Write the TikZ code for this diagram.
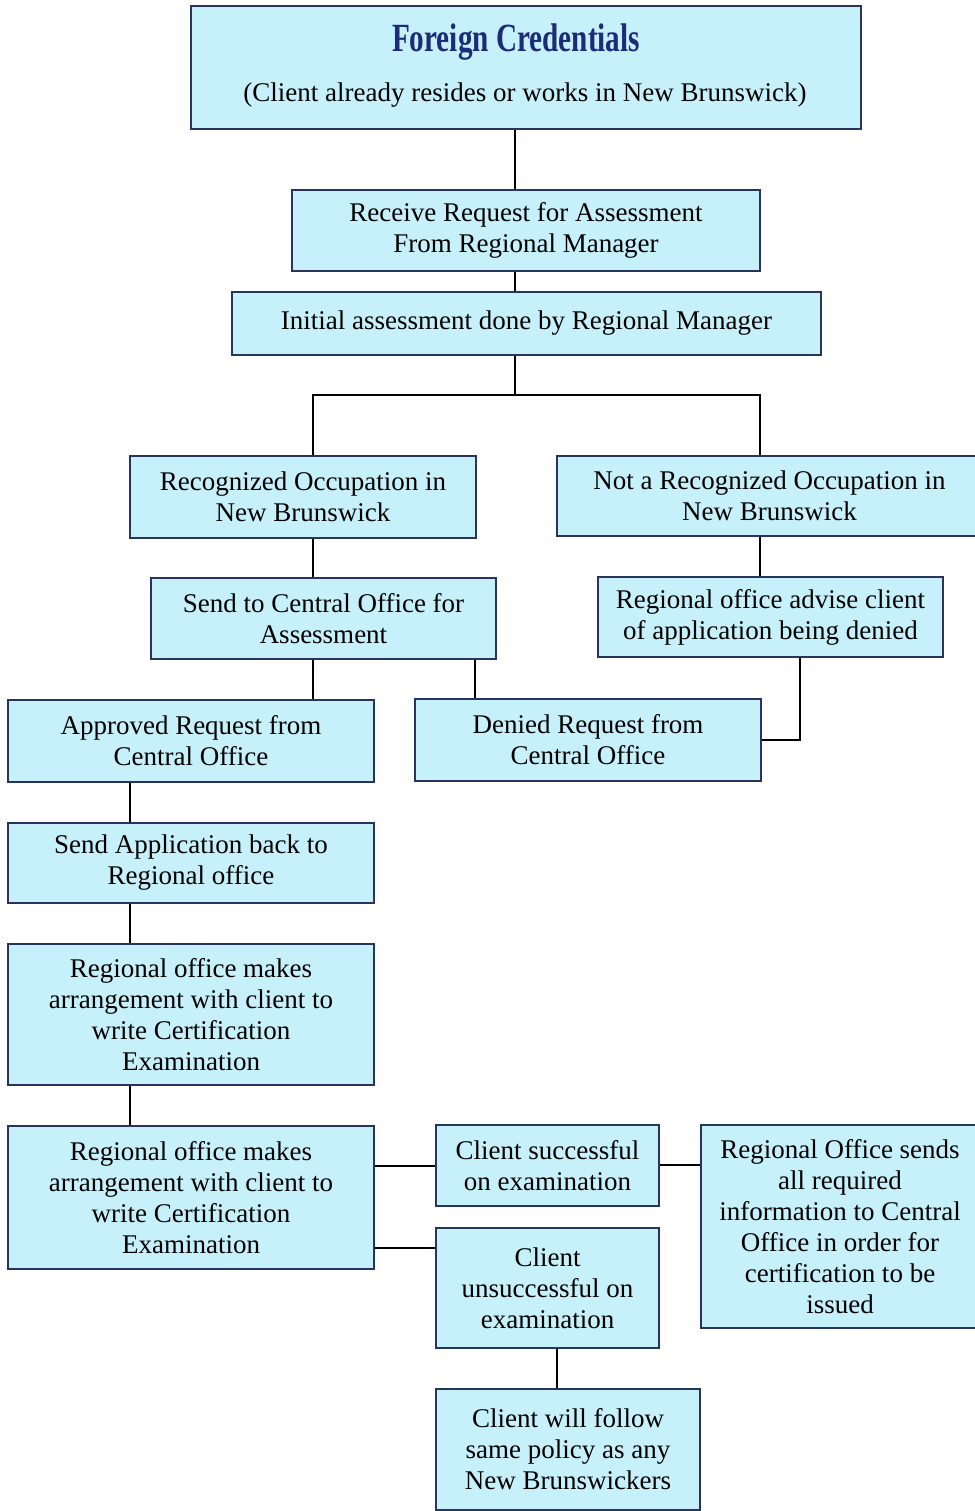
\documentclass[tikz,border=0pt]{standalone}
\usepackage{fontspec}
\setmainfont{Liberation Serif}
\usepackage{tikz}

\definecolor{boxfill}{RGB}{198,240,250}
\definecolor{boxline}{RGB}{40,52,92}
\definecolor{titleblue}{RGB}{28,44,120}

\tikzset{
  box/.style={draw=boxline,fill=boxfill,line width=1.4pt,inner sep=0pt,align=center,
    font=\fontsize{27}{31}\selectfont},
  link/.style={black,line width=1.3pt}
}

\begin{document}
\begin{tikzpicture}[x=1pt,y=-1pt]

\useasboundingbox (0,0) rectangle (974,1511);

% top part
\node[box,minimum width=670,minimum height=123] (title) at (526,67.5) {};
\node[titleblue,font=\fontsize{40}{40}\selectfont\bfseries] (tname) at (516,42) {\scalebox{0.73}[1]{Foreign Credentials}};
\node[font=\fontsize{27}{31}\selectfont] (tsub) at (525,95) {(Client already resides or works in New Brunswick)};

\node[box,minimum width=468,minimum height=81] (recv) at (526,230.5) {Receive Request for Assessment\\From Regional Manager};
\node[box,minimum width=589,minimum height=63] (init) at (526.5,323.5) {Initial assessment done by Regional Manager};

% the two branches
\node[box,minimum width=346,minimum height=82] (recog) at (303,497) {Recognized Occupation in\\New Brunswick};
\node[box,minimum width=425,minimum height=80] (notrecog) at (769.5,496) {Not a Recognized Occupation in\\New Brunswick};
\node[box,minimum width=345,minimum height=81] (central) at (323.5,618.5) {Send to Central Office for\\Assessment};
\node[box,minimum width=345,minimum height=80] (advise) at (770.5,617) {Regional office advise client\\of application being denied};
\node[box,minimum width=366,minimum height=82] (approved) at (191,741) {Approved Request from\\Central Office};
\node[box,minimum width=346,minimum height=82] (denied) at (588,740) {Denied Request from\\Central Office};

% left column
\node[box,minimum width=366,minimum height=80] (sendback) at (191,863) {Send Application back to\\Regional office};
\node[box,minimum width=366,minimum height=141] (arrange) at (191,1014.5) {Regional office makes\\arrangement with client to\\write Certification\\Examination};
\node[box,minimum width=366,minimum height=143] (arrange2) at (191,1197.5) {Regional office makes\\arrangement with client to\\write Certification\\Examination};

% results
\node[box,minimum width=223,minimum height=81] (success) at (547.5,1165.5) {Client successful\\on examination};
\node[box,minimum width=223,minimum height=120] (fail) at (547.5,1288) {Client\\unsuccessful on\\examination};
\node[box,minimum width=278,minimum height=203] (sends) at (840,1226.5) {Regional Office sends\\all required\\information to Central\\Office in order for\\certification to be\\issued};
\node[box,minimum width=264,minimum height=121] (follow) at (568,1449.5) {Client will follow\\same policy as any\\New Brunswickers};

% connectors
\coordinate (spine) at (515,395);
\draw[link] (title.south -| spine) -- (recv.north -| spine);
\draw[link] (recv.south -| spine) -- (init.north -| spine) ;
\draw[link] (init.south -| spine) -- (spine);
\draw[link] (recog.north -| 313,0) |- (spine) -| (notrecog.north -| 760,0);

\draw[link] (recog.south -| 313,0) -- (central.north -| 313,0);
\draw[link] (notrecog.south -| 760,0) -- (advise.north -| 760,0);
\draw[link] (central.south -| 313,0) -- (approved.north -| 313,0);
\draw[link] (central.south -| 475,0) -- (denied.north -| 475,0);
\draw[link] (advise.south -| 800,0) |- (denied.east |- 0,740);

\draw[link] (approved.south -| 130,0) -- (sendback.north -| 130,0);
\draw[link] (sendback.south -| 130,0) -- (arrange.north -| 130,0);
\draw[link] (arrange.south -| 130,0) -- (arrange2.north -| 130,0);

\draw[link] (arrange2.east |- 0,1166) -- (success.west |- 0,1166);
\draw[link] (arrange2.east |- 0,1248) -- (fail.west |- 0,1248);
\draw[link] (success.east |- 0,1165) -- (sends.west |- 0,1165);
\draw[link] (fail.south -| 557,0) -- (follow.north -| 557,0);

\end{tikzpicture}
\end{document}
